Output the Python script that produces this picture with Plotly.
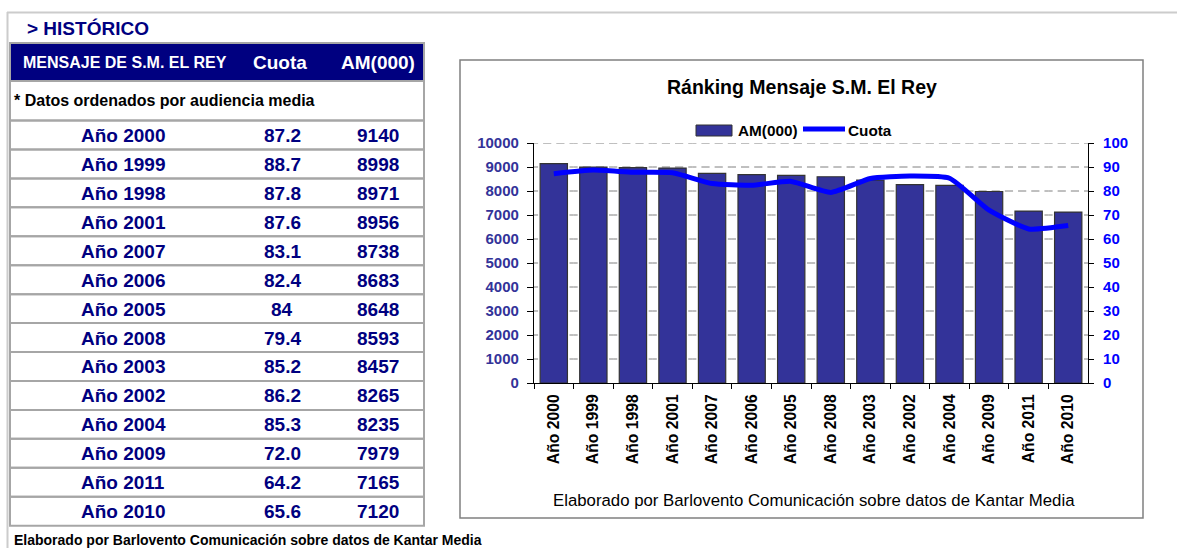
import plotly.graph_objects as go

# ---------------- data ----------------
years = ["Año 2000", "Año 1999", "Año 1998", "Año 2001", "Año 2007", "Año 2006", "Año 2005",
         "Año 2008", "Año 2003", "Año 2002", "Año 2004", "Año 2009", "Año 2011", "Año 2010"]
cuota = [87.2, 88.7, 87.8, 87.6, 83.1, 82.4, 84.0, 79.4, 85.2, 86.2, 85.3, 72.0, 64.2, 65.6]
cuota_labels = ["87.2", "88.7", "87.8", "87.6", "83.1", "82.4", "84", "79.4", "85.2", "86.2",
                "85.3", "72.0", "64.2", "65.6"]
am = [9140, 8998, 8971, 8956, 8738, 8683, 8648, 8593, 8457, 8265, 8235, 7979, 7165, 7120]
am_ticks = [0, 1000, 2000, 3000, 4000, 5000, 6000, 7000, 8000, 9000, 10000]
cuota_ticks = [0, 10, 20, 30, 40, 50, 60, 70, 80, 90, 100]

table_title = "> HISTÓRICO"
table_headers = ["MENSAJE DE S.M. EL REY", "Cuota", "AM(000)"]
table_note = "* Datos ordenados por audiencia media"
chart_title = "Ránking Mensaje S.M. El Rey"
source_text = "Elaborado por Barlovento Comunicación sobre datos de Kantar Media"

W, H = 1177, 548
FONT = "Arial, Liberation Sans, sans-serif"
NAVY = "#000080"
BAR = "#333399"
BLUE = "#0000FF"
GRAYLINE = "#a6a6a6"
PLOT_L, PLOT_R, PLOT_T, PLOT_B = 534, 1088, 143, 383


def px(x):
    return x / W


def py(y):
    return 1 - y / H


fig = go.Figure()

fig.add_trace(go.Bar(
    x=years, y=am, name="AM(000)",
    marker=dict(color=BAR, line=dict(color="#333333", width=1.2)),
    showlegend=False,
))
fig.add_trace(go.Scatter(
    x=years, y=cuota, name="Cuota", yaxis="y2", mode="lines",
    line=dict(color=BLUE, width=5, shape="spline", smoothing=0.5),
    showlegend=False,
))

shapes = []
annotations = []

# dashed gridlines behind the bars; pattern puts one dash centred on every gap between bars
cat_w = (PLOT_R - PLOT_L) / len(years)
g = 5.0
h = (cat_w - 3 * g) / 6
dash = "%.2fpx,%.2fpx,%.2fpx,%.2fpx,%.2fpx,%.2fpx,%.2fpx,0px" % (h, g, 2 * h, g, 2 * h, g, h)
for t in am_ticks[1:]:
    shapes.append(dict(type="line", xref="paper", yref="y", x0=px(PLOT_L), x1=px(PLOT_R), y0=t, y1=t,
                       line=dict(color="#808080", width=1, dash=dash), layer="below"))

# page frame lines
shapes.append(dict(type="line", xref="paper", yref="paper", x0=px(7), x1=px(W), y0=py(12.5), y1=py(12.5),
                   line=dict(color="#cccccc", width=2)))
shapes.append(dict(type="line", xref="paper", yref="paper", x0=px(7.5), x1=px(7.5), y0=py(12), y1=py(H),
                   line=dict(color="#cccccc", width=2)))

# table
TL, TR = 10, 424
annotations.append(dict(text="<b>" + table_title + "</b>", xref="paper", yref="paper", x=px(25), y=py(28),
                        xanchor="left", yanchor="middle", showarrow=False,
                        font=dict(family=FONT, size=19, color=NAVY)))
shapes.append(dict(type="rect", xref="paper", yref="paper", x0=px(TL), x1=px(TR), y0=py(43), y1=py(81),
                   fillcolor=NAVY, line=dict(color=GRAYLINE, width=2)))
annotations.append(dict(text="<b>" + table_headers[0] + "</b>", xref="paper", yref="paper", x=px(21), y=py(62.5),
                        xanchor="left", yanchor="middle", showarrow=False,
                        font=dict(family=FONT, size=16, color="white")))
annotations.append(dict(text="<b>" + table_headers[1] + "</b>", xref="paper", yref="paper", x=px(280), y=py(62.5),
                        xanchor="center", yanchor="middle", showarrow=False,
                        font=dict(family=FONT, size=19, color="white")))
annotations.append(dict(text="<b>" + table_headers[2] + "</b>", xref="paper", yref="paper", x=px(378), y=py(62.5),
                        xanchor="center", yanchor="middle", showarrow=False,
                        font=dict(family=FONT, size=19, color="white")))
shapes.append(dict(type="rect", xref="paper", yref="paper", x0=px(TL), x1=px(TR), y0=py(81), y1=py(120.5),
                   line=dict(color=GRAYLINE, width=2)))
annotations.append(dict(text="<b>" + table_note + "</b>", xref="paper", yref="paper", x=px(12), y=py(101),
                        xanchor="left", yanchor="middle", showarrow=False,
                        font=dict(family=FONT, size=16, color="black")))

ROW0, ROWH = 120.5, 28.94
for i, (yr, cl, a) in enumerate(zip(years, cuota_labels, am)):
    top = ROW0 + i * ROWH
    shapes.append(dict(type="rect", xref="paper", yref="paper", x0=px(TL), x1=px(TR), y0=py(top),
                       y1=py(top + ROWH), line=dict(color=GRAYLINE, width=2)))
    yc = py(top + ROWH / 2 + 0.5)
    for txt, xc in ((yr, 123), (cl, 282), (str(a), 378)):
        annotations.append(dict(text="<b>" + txt + "</b>", xref="paper", yref="paper", x=px(xc), y=yc,
                                xanchor="center", yanchor="middle", showarrow=False,
                                font=dict(family=FONT, size=19, color=NAVY)))

annotations.append(dict(text="<b>" + source_text + "</b>", xref="paper", yref="paper", x=px(12), y=py(540),
                        xanchor="left", yanchor="middle", showarrow=False,
                        font=dict(family=FONT, size=14, color="black")))

# chart frame
shapes.append(dict(type="rect", xref="paper", yref="paper", x0=px(460), x1=px(1143), y0=py(60), y1=py(518),
                   line=dict(color="#808080", width=1.5), layer="below"))
annotations.append(dict(text="<b>" + chart_title + "</b>", xref="paper", yref="paper", x=px(801.5), y=py(87),
                        xanchor="center", yanchor="middle", showarrow=False,
                        font=dict(family=FONT, size=19.5, color="black")))
annotations.append(dict(text=source_text, xref="paper", yref="paper", x=px(814), y=py(500),
                        xanchor="center", yanchor="middle", showarrow=False,
                        font=dict(family=FONT, size=16.8, color="black")))

# manual legend
shapes.append(dict(type="rect", xref="paper", yref="paper", x0=px(696), x1=px(732), y0=py(125), y1=py(136),
                   fillcolor=BAR, line=dict(color="#333333", width=1)))
annotations.append(dict(text="<b>AM(000)</b>", xref="paper", yref="paper", x=px(735.5), y=py(130.5),
                        xanchor="left", yanchor="middle", showarrow=False,
                        font=dict(family=FONT, size=15.3, color="black")))
shapes.append(dict(type="line", xref="paper", yref="paper", x0=px(803), x1=px(845), y0=py(129), y1=py(129),
                   line=dict(color=BLUE, width=5)))
annotations.append(dict(text="<b>Cuota</b>", xref="paper", yref="paper", x=px(845.5), y=py(130.5),
                        xanchor="left", yanchor="middle", showarrow=False,
                        font=dict(family=FONT, size=15.3, color="black")))

fig.update_layout(
    template="none",
    width=W, height=H, autosize=False,
    margin=dict(l=0, r=0, t=0, b=0, pad=0, autoexpand=False),
    paper_bgcolor="white", plot_bgcolor="rgba(0,0,0,0)",
    font=dict(family=FONT),
    bargap=0.31,
    showlegend=False,
    xaxis=dict(
        domain=[px(PLOT_L), px(PLOT_R)],
        type="category",
        tickangle=-90,
        ticks="outside", ticklen=5, tickcolor="black", tickwidth=1, tickson="boundaries",
        showline=True, linecolor="black", linewidth=1.2,
        showgrid=False, zeroline=False, automargin=False,
        tickfont=dict(family=FONT, size=15.7, color="black", weight="bold"),
        ticklabelstandoff=4,
    ),
    yaxis=dict(
        domain=[py(PLOT_B), py(PLOT_T)],
        range=[am_ticks[0], am_ticks[-1]], tickvals=am_ticks, tickformat="d",
        ticks="outside", ticklen=6, tickcolor="black", tickwidth=1,
        showline=True, linecolor="black", linewidth=1.2,
        showgrid=False, zeroline=False, automargin=False,
        tickfont=dict(family=FONT, size=15, color=BAR, weight="bold"),
        ticklabelstandoff=5,
    ),
    yaxis2=dict(
        range=[cuota_ticks[0], cuota_ticks[-1]], tickvals=cuota_ticks,
        overlaying="y", side="right", anchor="x",
        ticks="outside", ticklen=5, tickcolor="black", tickwidth=1,
        showline=True, linecolor="black", linewidth=1.2,
        showgrid=False, zeroline=False, automargin=False,
        tickfont=dict(family=FONT, size=15, color=BLUE, weight="bold"),
        ticklabelstandoff=6,
    ),
    yaxis3=dict(
        range=[cuota_ticks[0], cuota_ticks[-1]], tickvals=cuota_ticks,
        overlaying="y", side="right", anchor="x",
        ticks="inside", ticklen=5, tickcolor="black", tickwidth=1,
        showline=False, showgrid=False, zeroline=False, showticklabels=False, automargin=False,
    ),
    shapes=shapes,
    annotations=annotations,
)

POST = (
    "document.documentElement.style.margin='0px';"
    "document.documentElement.style.padding='0px';"
    "document.documentElement.style.overflow='hidden';"
    "document.body.style.margin='0px';"
    "document.body.style.padding='0px';"
    "document.body.style.overflow='hidden';"
    "var gd=document.getElementById('{plot_id}');"
    "gd.style.position='fixed';gd.style.left='0px';gd.style.top='0px';"
)

fig.write_html("out.html", config={"displayModeBar": False}, post_script=POST)
